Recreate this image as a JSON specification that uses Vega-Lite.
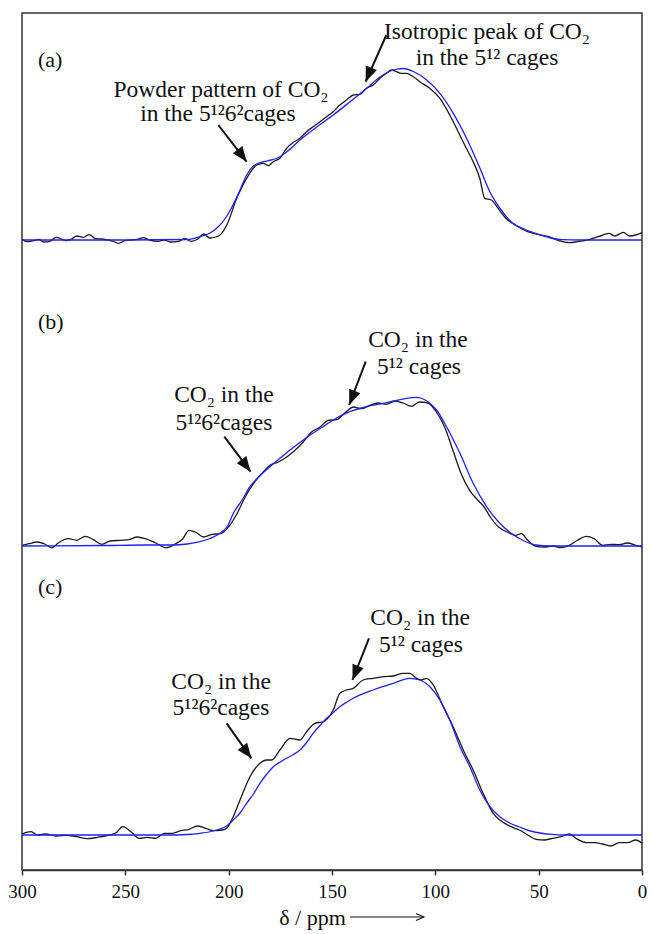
{
  "$schema": "https://vega.github.io/schema/vega-lite/v6.json",
  "width": 620,
  "height": 857,
  "autosize": "none",
  "padding": {"left": 22, "top": 13, "right": 10, "bottom": 64},
  "background": "white",
  "config": {
    "view": {"stroke": "#333333", "strokeWidth": 1.5},
    "font": "Liberation Serif"
  },
  "datasets": {
    "spectra": [
      {"panel":"a","series":"exp","ppm":300,"signal":630.7},{"panel":"a","series":"exp","ppm":297.6,"signal":628.3},{"panel":"a","series":"exp","ppm":294.6,"signal":629.3},{"panel":"a","series":"exp","ppm":291.6,"signal":630.7},{"panel":"a","series":"exp","ppm":289.5,"signal":628},{"panel":"a","series":"exp","ppm":286.5,"signal":628.7},{"panel":"a","series":"exp","ppm":283.5,"signal":632.7},{"panel":"a","series":"exp","ppm":280.5,"signal":630.7},{"panel":"a","series":"exp","ppm":278.5,"signal":629.3},{"panel":"a","series":"exp","ppm":276,"signal":631},{"panel":"a","series":"exp","ppm":273.5,"signal":634},{"panel":"a","series":"exp","ppm":270.4,"signal":632.7},{"panel":"a","series":"exp","ppm":267.4,"signal":635.3},{"panel":"a","series":"exp","ppm":264.4,"signal":631.3},{"panel":"a","series":"exp","ppm":261.4,"signal":631},{"panel":"a","series":"exp","ppm":258.4,"signal":630},{"panel":"a","series":"exp","ppm":255.8,"signal":628.5},{"panel":"a","series":"exp","ppm":253.3,"signal":626.7},{"panel":"a","series":"exp","ppm":250.3,"signal":629.3},{"panel":"a","series":"exp","ppm":247.3,"signal":630},{"panel":"a","series":"exp","ppm":244.3,"signal":630.7},{"panel":"a","series":"exp","ppm":241.3,"signal":632.3},{"panel":"a","series":"exp","ppm":238.3,"signal":630},{"panel":"a","series":"exp","ppm":234.2,"signal":628.7},{"panel":"a","series":"exp","ppm":231.2,"signal":630},{"panel":"a","series":"exp","ppm":228.2,"signal":628},{"panel":"a","series":"exp","ppm":224.2,"signal":628.7},{"panel":"a","series":"exp","ppm":221.2,"signal":631.3},{"panel":"a","series":"exp","ppm":218.2,"signal":628.7},{"panel":"a","series":"exp","ppm":215.1,"signal":630.7},{"panel":"a","series":"exp","ppm":212.1,"signal":636},{"panel":"a","series":"exp","ppm":209.1,"signal":632},{"panel":"a","series":"exp","ppm":206.1,"signal":633},{"panel":"a","series":"exp","ppm":204.2,"signal":635},{"panel":"a","series":"exp","ppm":200.9,"signal":645},{"panel":"a","series":"exp","ppm":196.1,"signal":671.7},{"panel":"a","series":"exp","ppm":191.3,"signal":691.7},{"panel":"a","series":"exp","ppm":186.4,"signal":705},{"panel":"a","series":"exp","ppm":183.2,"signal":706.7},{"panel":"a","series":"exp","ppm":180.8,"signal":704.3},{"panel":"a","series":"exp","ppm":178.4,"signal":708.3},{"panel":"a","series":"exp","ppm":175.2,"signal":711.7},{"panel":"a","series":"exp","ppm":172,"signal":721.7},{"panel":"a","series":"exp","ppm":168.7,"signal":727.7},{"panel":"a","series":"exp","ppm":165.5,"signal":731.7},{"panel":"a","series":"exp","ppm":162.3,"signal":738.3},{"panel":"a","series":"exp","ppm":159.1,"signal":743.3},{"panel":"a","series":"exp","ppm":155.8,"signal":748.3},{"panel":"a","series":"exp","ppm":152.6,"signal":753.3},{"panel":"a","series":"exp","ppm":149.4,"signal":758.3},{"panel":"a","series":"exp","ppm":146.2,"signal":765},{"panel":"a","series":"exp","ppm":143,"signal":770},{"panel":"a","series":"exp","ppm":139.7,"signal":775},{"panel":"a","series":"exp","ppm":136.5,"signal":775.7},{"panel":"a","series":"exp","ppm":133.3,"signal":781.7},{"panel":"a","series":"exp","ppm":130.1,"signal":785},{"panel":"a","series":"exp","ppm":126.8,"signal":791.7},{"panel":"a","series":"exp","ppm":123.6,"signal":796.7},{"panel":"a","series":"exp","ppm":121.2,"signal":800},{"panel":"a","series":"exp","ppm":118.8,"signal":798.3},{"panel":"a","series":"exp","ppm":116.4,"signal":796.7},{"panel":"a","series":"exp","ppm":113.9,"signal":796.7},{"panel":"a","series":"exp","ppm":110.7,"signal":793.3},{"panel":"a","series":"exp","ppm":107.5,"signal":788.3},{"panel":"a","series":"exp","ppm":102.7,"signal":781.7},{"panel":"a","series":"exp","ppm":97.8,"signal":771.7},{"panel":"a","series":"exp","ppm":93,"signal":755},{"panel":"a","series":"exp","ppm":88.2,"signal":735},{"panel":"a","series":"exp","ppm":85,"signal":721.7},{"panel":"a","series":"exp","ppm":81.7,"signal":708.3},{"panel":"a","series":"exp","ppm":78.5,"signal":691.7},{"panel":"a","series":"exp","ppm":76.1,"signal":671.7},{"panel":"a","series":"exp","ppm":72.9,"signal":670},{"panel":"a","series":"exp","ppm":69.6,"signal":661.7},{"panel":"a","series":"exp","ppm":66,"signal":652},{"panel":"a","series":"exp","ppm":61.3,"signal":645},{"panel":"a","series":"exp","ppm":55.3,"signal":638.3},{"panel":"a","series":"exp","ppm":49.3,"signal":635},{"panel":"a","series":"exp","ppm":45.2,"signal":633.3},{"panel":"a","series":"exp","ppm":40.2,"signal":629.3},{"panel":"a","series":"exp","ppm":35.2,"signal":627.3},{"panel":"a","series":"exp","ppm":31.2,"signal":628.3},{"panel":"a","series":"exp","ppm":25.1,"signal":630.7},{"panel":"a","series":"exp","ppm":21.1,"signal":633.3},{"panel":"a","series":"exp","ppm":16.1,"signal":636.7},{"panel":"a","series":"exp","ppm":13.1,"signal":634},{"panel":"a","series":"exp","ppm":9,"signal":637.7},{"panel":"a","series":"exp","ppm":6,"signal":634},{"panel":"a","series":"exp","ppm":3,"signal":635},{"panel":"a","series":"exp","ppm":0,"signal":637.3},

      {"panel":"a","series":"fit","ppm":300,"signal":630},{"panel":"a","series":"fit","ppm":250,"signal":630},{"panel":"a","series":"fit","ppm":220,"signal":630.5},{"panel":"a","series":"fit","ppm":213.9,"signal":633.3},{"panel":"a","series":"fit","ppm":209,"signal":637},{"panel":"a","series":"fit","ppm":205.8,"signal":641.7},{"panel":"a","series":"fit","ppm":201.5,"signal":652},{"panel":"a","series":"fit","ppm":197.9,"signal":665},{"panel":"a","series":"fit","ppm":194.5,"signal":680},{"panel":"a","series":"fit","ppm":191.3,"signal":695},{"panel":"a","series":"fit","ppm":188.5,"signal":703},{"panel":"a","series":"fit","ppm":186,"signal":706.5},{"panel":"a","series":"fit","ppm":183,"signal":708.3},{"panel":"a","series":"fit","ppm":179.5,"signal":710},{"panel":"a","series":"fit","ppm":176.8,"signal":711.5},{"panel":"a","series":"fit","ppm":172,"signal":718},{"panel":"a","series":"fit","ppm":165.5,"signal":730},{"panel":"a","series":"fit","ppm":157.4,"signal":743},{"panel":"a","series":"fit","ppm":149.4,"signal":755},{"panel":"a","series":"fit","ppm":141.4,"signal":768},{"panel":"a","series":"fit","ppm":133.2,"signal":781.7},{"panel":"a","series":"fit","ppm":126.8,"signal":793},{"panel":"a","series":"fit","ppm":120.4,"signal":800},{"panel":"a","series":"fit","ppm":115.5,"signal":801.5},{"panel":"a","series":"fit","ppm":110.6,"signal":798.5},{"panel":"a","series":"fit","ppm":104.2,"signal":790},{"panel":"a","series":"fit","ppm":97.8,"signal":776.7},{"panel":"a","series":"fit","ppm":91.3,"signal":756.7},{"panel":"a","series":"fit","ppm":84.9,"signal":731.7},{"panel":"a","series":"fit","ppm":78.4,"signal":701.7},{"panel":"a","series":"fit","ppm":73.6,"signal":678},{"panel":"a","series":"fit","ppm":68.7,"signal":661.7},{"panel":"a","series":"fit","ppm":62.7,"signal":647},{"panel":"a","series":"fit","ppm":56,"signal":640},{"panel":"a","series":"fit","ppm":50.6,"signal":636},{"panel":"a","series":"fit","ppm":45,"signal":632.5},{"panel":"a","series":"fit","ppm":38.5,"signal":630.3},{"panel":"a","series":"fit","ppm":30,"signal":630},{"panel":"a","series":"fit","ppm":0,"signal":630},

      {"panel":"b","series":"exp","ppm":300,"signal":324.7},{"panel":"b","series":"exp","ppm":296.6,"signal":326.3},{"panel":"b","series":"exp","ppm":292.6,"signal":328},{"panel":"b","series":"exp","ppm":289,"signal":326},{"panel":"b","series":"exp","ppm":285.5,"signal":322.3},{"panel":"b","series":"exp","ppm":282.5,"signal":327},{"panel":"b","series":"exp","ppm":277.5,"signal":331.3},{"panel":"b","series":"exp","ppm":273.5,"signal":329.7},{"panel":"b","series":"exp","ppm":269.4,"signal":333.7},{"panel":"b","series":"exp","ppm":265.4,"signal":330.3},{"panel":"b","series":"exp","ppm":261.4,"signal":325.7},{"panel":"b","series":"exp","ppm":257.4,"signal":329},{"panel":"b","series":"exp","ppm":252.3,"signal":329.7},{"panel":"b","series":"exp","ppm":248.3,"signal":330.3},{"panel":"b","series":"exp","ppm":244.3,"signal":333},{"panel":"b","series":"exp","ppm":240.3,"signal":331.3},{"panel":"b","series":"exp","ppm":235.3,"signal":327},{"panel":"b","series":"exp","ppm":230.2,"signal":322.3},{"panel":"b","series":"exp","ppm":226.2,"signal":325.7},{"panel":"b","series":"exp","ppm":222.2,"signal":331.3},{"panel":"b","series":"exp","ppm":219.2,"signal":339.7},{"panel":"b","series":"exp","ppm":216.2,"signal":338},{"panel":"b","series":"exp","ppm":212.1,"signal":333},{"panel":"b","series":"exp","ppm":208.1,"signal":335.7},{"panel":"b","series":"exp","ppm":204.1,"signal":336.3},{"panel":"b","series":"exp","ppm":200.1,"signal":343},{"panel":"b","series":"exp","ppm":196,"signal":356.3},{"panel":"b","series":"exp","ppm":192,"signal":373},{"panel":"b","series":"exp","ppm":188,"signal":386.3},{"panel":"b","series":"exp","ppm":184,"signal":396.3},{"panel":"b","series":"exp","ppm":180,"signal":404.7},{"panel":"b","series":"exp","ppm":175.9,"signal":408},{"panel":"b","series":"exp","ppm":171.9,"signal":413},{"panel":"b","series":"exp","ppm":167.9,"signal":419.7},{"panel":"b","series":"exp","ppm":163.9,"signal":428},{"panel":"b","series":"exp","ppm":159.9,"signal":438},{"panel":"b","series":"exp","ppm":155.8,"signal":443},{"panel":"b","series":"exp","ppm":151.8,"signal":449.7},{"panel":"b","series":"exp","ppm":147.8,"signal":450.3},{"panel":"b","series":"exp","ppm":143.8,"signal":457},{"panel":"b","series":"exp","ppm":139.7,"signal":463},{"panel":"b","series":"exp","ppm":135.7,"signal":461.3},{"panel":"b","series":"exp","ppm":131.7,"signal":464.7},{"panel":"b","series":"exp","ppm":127.7,"signal":467},{"panel":"b","series":"exp","ppm":123.7,"signal":465.7},{"panel":"b","series":"exp","ppm":119.6,"signal":469},{"panel":"b","series":"exp","ppm":115.6,"signal":467},{"panel":"b","series":"exp","ppm":111.6,"signal":463.7},{"panel":"b","series":"exp","ppm":107.6,"signal":468},{"panel":"b","series":"exp","ppm":103.5,"signal":467},{"panel":"b","series":"exp","ppm":99.5,"signal":458},{"panel":"b","series":"exp","ppm":95.5,"signal":443},{"panel":"b","series":"exp","ppm":91.5,"signal":419.7},{"panel":"b","series":"exp","ppm":87.5,"signal":396.3},{"panel":"b","series":"exp","ppm":83.4,"signal":379.7},{"panel":"b","series":"exp","ppm":79.4,"signal":369.7},{"panel":"b","series":"exp","ppm":76.4,"signal":363},{"panel":"b","series":"exp","ppm":73.4,"signal":353},{"panel":"b","series":"exp","ppm":69.4,"signal":343},{"panel":"b","series":"exp","ppm":65.3,"signal":338},{"panel":"b","series":"exp","ppm":61.3,"signal":334.7},{"panel":"b","series":"exp","ppm":58.3,"signal":336.3},{"panel":"b","series":"exp","ppm":55.3,"signal":329.7},{"panel":"b","series":"exp","ppm":51.3,"signal":323.7},{"panel":"b","series":"exp","ppm":47.3,"signal":323},{"panel":"b","series":"exp","ppm":43.2,"signal":324},{"panel":"b","series":"exp","ppm":39.2,"signal":322.3},{"panel":"b","series":"exp","ppm":35.2,"signal":324.7},{"panel":"b","series":"exp","ppm":31.2,"signal":329.7},{"panel":"b","series":"exp","ppm":27.1,"signal":333.7},{"panel":"b","series":"exp","ppm":23.1,"signal":331.3},{"panel":"b","series":"exp","ppm":19.1,"signal":324.7},{"panel":"b","series":"exp","ppm":15.1,"signal":325.7},{"panel":"b","series":"exp","ppm":11.1,"signal":325.3},{"panel":"b","series":"exp","ppm":7,"signal":327},{"panel":"b","series":"exp","ppm":3,"signal":324.7},{"panel":"b","series":"exp","ppm":0,"signal":323},

      {"panel":"b","series":"fit","ppm":300,"signal":324},{"panel":"b","series":"fit","ppm":260,"signal":324.5},{"panel":"b","series":"fit","ppm":240,"signal":325},{"panel":"b","series":"fit","ppm":228,"signal":325},{"panel":"b","series":"fit","ppm":220,"signal":326},{"panel":"b","series":"fit","ppm":213.9,"signal":328.3},{"panel":"b","series":"fit","ppm":209,"signal":331.5},{"panel":"b","series":"fit","ppm":204.2,"signal":336.7},{"panel":"b","series":"fit","ppm":200.5,"signal":344},{"panel":"b","series":"fit","ppm":197.7,"signal":356.7},{"panel":"b","series":"fit","ppm":193.5,"signal":370},{"panel":"b","series":"fit","ppm":189.7,"signal":383.3},{"panel":"b","series":"fit","ppm":185,"signal":394},{"panel":"b","series":"fit","ppm":180,"signal":403.3},{"panel":"b","series":"fit","ppm":175,"signal":412},{"panel":"b","series":"fit","ppm":170.3,"signal":420},{"panel":"b","series":"fit","ppm":165.5,"signal":427.5},{"panel":"b","series":"fit","ppm":160.6,"signal":435},{"panel":"b","series":"fit","ppm":155,"signal":442.5},{"panel":"b","series":"fit","ppm":149.4,"signal":450},{"panel":"b","series":"fit","ppm":141.4,"signal":458.3},{"panel":"b","series":"fit","ppm":133.3,"signal":463.3},{"panel":"b","series":"fit","ppm":123.6,"signal":467.3},{"panel":"b","series":"fit","ppm":113.9,"signal":471.7},{"panel":"b","series":"fit","ppm":109.1,"signal":472.7},{"panel":"b","series":"fit","ppm":104.3,"signal":469.3},{"panel":"b","series":"fit","ppm":99.4,"signal":460},{"panel":"b","series":"fit","ppm":94.6,"signal":443.3},{"panel":"b","series":"fit","ppm":88.1,"signal":416.7},{"panel":"b","series":"fit","ppm":81.7,"signal":386.7},{"panel":"b","series":"fit","ppm":75.2,"signal":363.3},{"panel":"b","series":"fit","ppm":68.8,"signal":346.7},{"panel":"b","series":"fit","ppm":63.3,"signal":336.7},{"panel":"b","series":"fit","ppm":57,"signal":329},{"panel":"b","series":"fit","ppm":51.3,"signal":325},{"panel":"b","series":"fit","ppm":45,"signal":324},{"panel":"b","series":"fit","ppm":0,"signal":324},

      {"panel":"c","series":"exp","ppm":300,"signal":36},{"panel":"c","series":"exp","ppm":295.6,"signal":38.3},{"panel":"c","series":"exp","ppm":292.6,"signal":35},{"panel":"c","series":"exp","ppm":288.5,"signal":36},{"panel":"c","series":"exp","ppm":283.5,"signal":34},{"panel":"c","series":"exp","ppm":278.5,"signal":34.7},{"panel":"c","series":"exp","ppm":273.5,"signal":33.3},{"panel":"c","series":"exp","ppm":268.4,"signal":31.3},{"panel":"c","series":"exp","ppm":263.4,"signal":32.7},{"panel":"c","series":"exp","ppm":258.4,"signal":34.7},{"panel":"c","series":"exp","ppm":254.4,"signal":37.3},{"panel":"c","series":"exp","ppm":251.3,"signal":43.3},{"panel":"c","series":"exp","ppm":247.3,"signal":38.3},{"panel":"c","series":"exp","ppm":243.3,"signal":31.7},{"panel":"c","series":"exp","ppm":239.3,"signal":32.7},{"panel":"c","series":"exp","ppm":235.3,"signal":31.7},{"panel":"c","series":"exp","ppm":231.2,"signal":36.7},{"panel":"c","series":"exp","ppm":227.2,"signal":36.7},{"panel":"c","series":"exp","ppm":223.2,"signal":39.3},{"panel":"c","series":"exp","ppm":219.2,"signal":40.7},{"panel":"c","series":"exp","ppm":215.1,"signal":44},{"panel":"c","series":"exp","ppm":211.1,"signal":41.7},{"panel":"c","series":"exp","ppm":207.1,"signal":39.3},{"panel":"c","series":"exp","ppm":203,"signal":40},{"panel":"c","series":"exp","ppm":201,"signal":41.7},{"panel":"c","series":"exp","ppm":197.8,"signal":53.3},{"panel":"c","series":"exp","ppm":194.5,"signal":70},{"panel":"c","series":"exp","ppm":189.7,"signal":93.3},{"panel":"c","series":"exp","ppm":184.9,"signal":106.7},{"panel":"c","series":"exp","ppm":181.6,"signal":110},{"panel":"c","series":"exp","ppm":179.2,"signal":110},{"panel":"c","series":"exp","ppm":175.2,"signal":120},{"panel":"c","series":"exp","ppm":170.3,"signal":131.7},{"panel":"c","series":"exp","ppm":165.5,"signal":130},{"panel":"c","series":"exp","ppm":162.3,"signal":138.3},{"panel":"c","series":"exp","ppm":158.3,"signal":146.7},{"panel":"c","series":"exp","ppm":154.2,"signal":148.3},{"panel":"c","series":"exp","ppm":149.4,"signal":160},{"panel":"c","series":"exp","ppm":146.2,"signal":176.7},{"panel":"c","series":"exp","ppm":143,"signal":180},{"panel":"c","series":"exp","ppm":139.7,"signal":181.7},{"panel":"c","series":"exp","ppm":134.9,"signal":190},{"panel":"c","series":"exp","ppm":130.1,"signal":191.7},{"panel":"c","series":"exp","ppm":125.2,"signal":193.3},{"panel":"c","series":"exp","ppm":120.4,"signal":194},{"panel":"c","series":"exp","ppm":115.5,"signal":196.7},{"panel":"c","series":"exp","ppm":112.3,"signal":196.7},{"panel":"c","series":"exp","ppm":109.1,"signal":191.7},{"panel":"c","series":"exp","ppm":106.7,"signal":190},{"panel":"c","series":"exp","ppm":104.3,"signal":191.7},{"panel":"c","series":"exp","ppm":101,"signal":185},{"panel":"c","series":"exp","ppm":96.2,"signal":163.3},{"panel":"c","series":"exp","ppm":91.4,"signal":143.3},{"panel":"c","series":"exp","ppm":86.5,"signal":120},{"panel":"c","series":"exp","ppm":81.7,"signal":100},{"panel":"c","series":"exp","ppm":76.9,"signal":76.7},{"panel":"c","series":"exp","ppm":72,"signal":56.7},{"panel":"c","series":"exp","ppm":68.8,"signal":50},{"panel":"c","series":"exp","ppm":63.3,"signal":43.3},{"panel":"c","series":"exp","ppm":59.3,"signal":40},{"panel":"c","series":"exp","ppm":55.3,"signal":35},{"panel":"c","series":"exp","ppm":51.3,"signal":30.7},{"panel":"c","series":"exp","ppm":47.3,"signal":30},{"panel":"c","series":"exp","ppm":43.2,"signal":31.7},{"panel":"c","series":"exp","ppm":39.2,"signal":33.3},{"panel":"c","series":"exp","ppm":35.2,"signal":36},{"panel":"c","series":"exp","ppm":31.2,"signal":30.7},{"panel":"c","series":"exp","ppm":27.1,"signal":27.3},{"panel":"c","series":"exp","ppm":23.1,"signal":27.3},{"panel":"c","series":"exp","ppm":19.1,"signal":26},{"panel":"c","series":"exp","ppm":15.1,"signal":24},{"panel":"c","series":"exp","ppm":11.1,"signal":27.3},{"panel":"c","series":"exp","ppm":7,"signal":27.3},{"panel":"c","series":"exp","ppm":3,"signal":30},{"panel":"c","series":"exp","ppm":0,"signal":26.7},

      {"panel":"c","series":"fit","ppm":300,"signal":35},{"panel":"c","series":"fit","ppm":230,"signal":35},{"panel":"c","series":"fit","ppm":220,"signal":35.5},{"panel":"c","series":"fit","ppm":213.9,"signal":36.7},{"panel":"c","series":"fit","ppm":205.8,"signal":40},{"panel":"c","series":"fit","ppm":201,"signal":44},{"panel":"c","series":"fit","ppm":197.8,"signal":50},{"panel":"c","series":"fit","ppm":194.5,"signal":57},{"panel":"c","series":"fit","ppm":191.3,"signal":66.7},{"panel":"c","series":"fit","ppm":188,"signal":76},{"panel":"c","series":"fit","ppm":184.9,"signal":86.7},{"panel":"c","series":"fit","ppm":181.5,"signal":96},{"panel":"c","series":"fit","ppm":178.4,"signal":103.3},{"panel":"c","series":"fit","ppm":175,"signal":108},{"panel":"c","series":"fit","ppm":172,"signal":111.7},{"panel":"c","series":"fit","ppm":168.7,"signal":115.5},{"panel":"c","series":"fit","ppm":165.5,"signal":120},{"panel":"c","series":"fit","ppm":162.3,"signal":127.5},{"panel":"c","series":"fit","ppm":159.1,"signal":136.7},{"panel":"c","series":"fit","ppm":155.8,"signal":144.5},{"panel":"c","series":"fit","ppm":152.6,"signal":151.7},{"panel":"c","series":"fit","ppm":149.4,"signal":157.5},{"panel":"c","series":"fit","ppm":146.2,"signal":163.3},{"panel":"c","series":"fit","ppm":143,"signal":167.7},{"panel":"c","series":"fit","ppm":139.7,"signal":171.7},{"panel":"c","series":"fit","ppm":130.1,"signal":180},{"panel":"c","series":"fit","ppm":120.4,"signal":186.7},{"panel":"c","series":"fit","ppm":112.3,"signal":191.7},{"panel":"c","series":"fit","ppm":107.5,"signal":190},{"panel":"c","series":"fit","ppm":102.6,"signal":183.3},{"panel":"c","series":"fit","ppm":97.8,"signal":170},{"panel":"c","series":"fit","ppm":93,"signal":150},{"panel":"c","series":"fit","ppm":88.1,"signal":123.3},{"panel":"c","series":"fit","ppm":83.3,"signal":103.3},{"panel":"c","series":"fit","ppm":78.5,"signal":80},{"panel":"c","series":"fit","ppm":73.6,"signal":63.3},{"panel":"c","series":"fit","ppm":68.8,"signal":53.3},{"panel":"c","series":"fit","ppm":64,"signal":47},{"panel":"c","series":"fit","ppm":59.3,"signal":43},{"panel":"c","series":"fit","ppm":54,"signal":39},{"panel":"c","series":"fit","ppm":49.3,"signal":37},{"panel":"c","series":"fit","ppm":44,"signal":35.7},{"panel":"c","series":"fit","ppm":38,"signal":35},{"panel":"c","series":"fit","ppm":0,"signal":35}
    ],
    "notes": [
      {"kind":"note","text":"Isotropic peak of CO₂","ppm":75,"signal":838},
      {"kind":"note","text":"in the 5¹² cages","ppm":75,"signal":812},
      {"kind":"note","text":"Powder pattern of CO₂","ppm":203.7,"signal":780.5},
      {"kind":"note","text":"in the 5¹²6²cages","ppm":205.2,"signal":756},
      {"kind":"panel","text":"(a)","ppm":292.3,"signal":810},
      {"kind":"note","text":"CO₂ in the","ppm":108.4,"signal":530},
      {"kind":"note","text":"5¹² cages","ppm":107.9,"signal":503},
      {"kind":"note","text":"CO₂ in the","ppm":202.3,"signal":475},
      {"kind":"note","text":"5¹²6²cages","ppm":202.3,"signal":447},
      {"kind":"panel","text":"(b)","ppm":292.3,"signal":548},
      {"kind":"note","text":"CO₂ in the","ppm":107.4,"signal":252},
      {"kind":"note","text":"5¹² cages","ppm":107,"signal":225},
      {"kind":"note","text":"CO₂ in the","ppm":203.7,"signal":188},
      {"kind":"note","text":"5¹²6²cages","ppm":203.7,"signal":162},
      {"kind":"panel","text":"(c)","ppm":292.3,"signal":283}
    ],
    "arrows": [
      {"target":"5¹²6²","ppm":205,"signal":745,"ppm2":191.3,"signal2":708.3},
      {"target":"5¹²","ppm":123.7,"signal":835,"ppm2":133.7,"signal2":788.3},
      {"target":"5¹²6²","ppm":202.1,"signal":433.3,"ppm2":189.4,"signal2":398.3},
      {"target":"5¹²","ppm":133.7,"signal":508.3,"ppm2":141.7,"signal2":465},
      {"target":"5¹²6²","ppm":201,"signal":146.7,"ppm2":189,"signal2":111.7},
      {"target":"5¹²","ppm":132.1,"signal":231.7,"ppm2":140.1,"signal2":190}
    ],
    "axisArrow": [
      {"ppm":141.3,"signal":-47,"ppm2":105.5,"signal2":-47}
    ]
  },
  "encoding": {
    "x": {
      "field": "ppm", "type": "quantitative",
      "scale": {"domain": [300, 0], "nice": false, "zero": false},
      "axis": {
        "values": [300, 250, 200, 150, 100, 50, 0],
        "grid": false,
        "labelFontSize": 19,
        "labelColor": "#111111",
        "labelPadding": 7,
        "labelFlush": false,
        "tickSize": 5,
        "tickWidth": 1.5,
        "tickColor": "#333333",
        "domainColor": "#333333",
        "domainWidth": 1.5,
        "title": "δ / ppm",
        "titleFontSize": 22,
        "titleFontWeight": "normal",
        "titleColor": "#111111",
        "titleX": 290,
        "titleY": 47,
        "titleBaseline": "middle"
      }
    },
    "y": {
      "field": "signal", "type": "quantitative",
      "scale": {"domain": [0, 857], "nice": false, "zero": false},
      "axis": null
    }
  },
  "layer": [
    {
      "data": {"name": "spectra"},
      "transform": [{"filter": "datum.series === 'exp'"}],
      "mark": {"type": "line", "color": "#1a1a1a", "strokeWidth": 1.3, "interpolate": "monotone"},
      "encoding": {"detail": {"field": "panel"}}
    },
    {
      "data": {"name": "spectra"},
      "transform": [{"filter": "datum.series === 'fit'"}],
      "mark": {"type": "line", "color": "#1f1fff", "strokeWidth": 1.3, "interpolate": "monotone"},
      "encoding": {"detail": {"field": "panel"}}
    },
    {
      "data": {"name": "arrows"},
      "mark": {"type": "rule", "color": "#111111", "strokeWidth": 2},
      "encoding": {"x2": {"field": "ppm2"}, "y2": {"field": "signal2"}}
    },
    {
      "data": {"name": "arrows"},
      "transform": [{"filter": "datum.target === '5¹²6²'"}],
      "mark": {"type": "point", "shape": "M0,0 L-0.4,1 L0.4,1 Z", "filled": true, "color": "#111111", "opacity": 1, "size": 900, "angle": 143, "strokeWidth": 0},
      "encoding": {"x": {"field": "ppm2", "type": "quantitative"}, "y": {"field": "signal2", "type": "quantitative"}}
    },
    {
      "data": {"name": "arrows"},
      "transform": [{"filter": "datum.target === '5¹²'"}],
      "mark": {"type": "point", "shape": "M0,0 L-0.4,1 L0.4,1 Z", "filled": true, "color": "#111111", "opacity": 1, "size": 900, "angle": 202, "strokeWidth": 0},
      "encoding": {"x": {"field": "ppm2", "type": "quantitative"}, "y": {"field": "signal2", "type": "quantitative"}}
    },
    {
      "data": {"name": "axisArrow"},
      "mark": {"type": "rule", "color": "#111111", "strokeWidth": 1},
      "encoding": {"x2": {"field": "ppm2"}, "y2": {"field": "signal2"}}
    },
    {
      "data": {"name": "axisArrow"},
      "mark": {"type": "point", "shape": "M-0.45,1 L0,0 L0.45,1", "filled": false, "color": "#111111", "opacity": 1, "size": 256, "angle": 90, "strokeWidth": 1.1},
      "encoding": {"x": {"field": "ppm2", "type": "quantitative"}, "y": {"field": "signal2", "type": "quantitative"}}
    },
    {
      "data": {"name": "notes"},
      "transform": [{"filter": "datum.kind === 'note'"}],
      "mark": {"type": "text", "font": "Liberation Serif", "fontSize": 23.5, "color": "#111111", "align": "center", "baseline": "middle"},
      "encoding": {"text": {"field": "text"}}
    },
    {
      "data": {"name": "notes"},
      "transform": [{"filter": "datum.kind === 'panel'"}],
      "mark": {"type": "text", "font": "Liberation Serif", "fontSize": 22, "color": "#111111", "align": "left", "baseline": "middle"},
      "encoding": {"text": {"field": "text"}}
    }
  ]
}
